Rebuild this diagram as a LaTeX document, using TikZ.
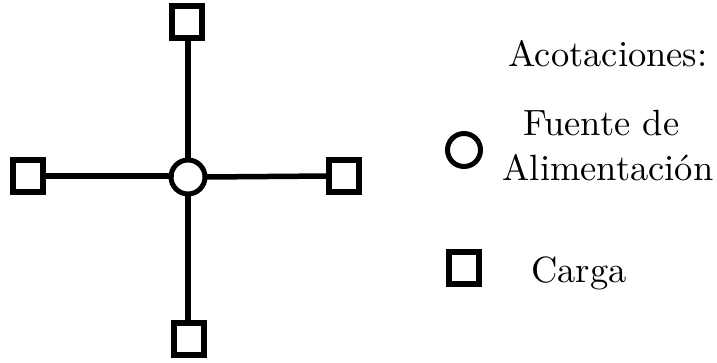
\documentclass[tikz,border=0pt]{standalone}
\begin{document}
\begin{tikzpicture}[x=1pt,y=-1pt,
  load/.style={draw=black,line width=6pt,fill=white,minimum width=30pt,minimum height=32pt,inner sep=0pt,outer sep=0pt},
  source/.style={draw=black,line width=5pt,fill=white,circle,minimum size=34pt,inner sep=0pt,outer sep=0pt},
  wire/.style={line width=5.5pt},
  lbl/.style={font=\fontsize{10}{12}\selectfont,scale=3.65,anchor=base,inner sep=0pt}]
\useasboundingbox (0,0) rectangle (717,362);
\node[source] (c) at (188,177) {};
\node[load] (t) at (186.5,22) {};
\node[load] (l) at (28,176) {};
\node[load] (r) at (344,176) {};
\node[load] (b) at (188.5,339) {};
\draw[wire] (c.north) -- (c.north |- t.south);
\draw[wire] (c.west) -- (c.west |- l.east) -- (l.east);
\draw[wire] (c.east) -- (r.west);
\draw[wire] (c.south) -- (c.south |- b.north);
\node[source,minimum size=33pt] (ls) at (464,150) {};
\node[load] (lq) at (464,268) {};
\node[lbl] (t1) at (608,66) {Acotaciones:};
\node[lbl] (t2) at (601.5,135) {Fuente de};
\node[lbl] (t3) at (608,180) {Alimentación};
\node[lbl] (t4) at (579,282) {Carga};
\end{tikzpicture}
\end{document}
